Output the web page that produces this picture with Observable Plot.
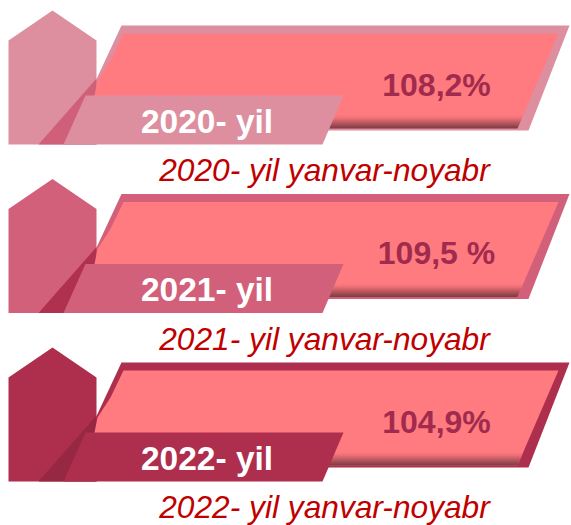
<!DOCTYPE html>
<html>
<head>
<meta charset="utf-8">
<script src="https://cdn.jsdelivr.net/npm/d3@7"></script>
<script src="https://cdn.jsdelivr.net/npm/@observablehq/plot@0.6"></script>
<style>
  html, body { margin: 0; padding: 0; background: #fff; }
  #chart svg { display: block; }
</style>
</head>
<body>
<div id="chart"></div>
<script>
// ---- data ----
const years = ["2020", "2021", "2022"];
const values = ["108,2%", "109,5 %", "104,9%"];
const yearLabels = ["2020- yil", "2021- yil", "2022- yil"];
const periodLabels = ["2020- yil yanvar-noyabr", "2021- yil yanvar-noyabr", "2022- yil yanvar-noyabr"];

// ---- palette ----
const themeColors = ["#DD8FA0", "#D3607A", "#AD2E4D"];
const shadowColors = ["#D06079", "#B0304F", "#972843"];
const innerColor = "#FF7B80";
const valueColor = "#A12B4D";
const periodColor = "#C00000";
const SHADE = "#010203"; // placeholder, replaced by gradient

const rows = years.map((year, i) => ({
  year, i, value: values[i], label: yearLabels[i], period: periodLabels[i],
  theme: themeColors[i], shadow: shadowColors[i]
}));

// row placement (band scale of the years)
const rowTop = d3.scaleBand().domain(years).range([0, 505.5]);

// decorative shape templates, local to each row
const templates = {
  house:  [[8,40],[52,10],[96,40],[96,144],[8,144]],
  frame:  [[121,25],[569,25],[528,130],[72,130]],
  shadow: [[38,144],[96,78],[96,144]],
  inner:  [[123,33],[558,33],[517,128],[78,128],[94,95],[97,80],[110,60]],
  strip:  [[86,113],[523.5,113],[517,128],[78,128]],
  band:   [[85,95],[343,95],[322,144],[63,144]]
};
function layer(name, colorOf) {
  const out = [];
  for (const r of rows) {
    for (const [px, py] of templates[name]) {
      out.push({id: name + r.year, x: px, y: rowTop(r.year) + py, fill: colorOf(r)});
    }
  }
  return out;
}
const polyOpts = {x: "x", y: "y", z: "id", fill: "fill", stroke: "none", curve: "linear-closed"};

const font = "'Liberation Sans', Arial, Helvetica, sans-serif";

const chart = Plot.plot({
  width: 571,
  height: 525,
  margin: 0,
  x: {domain: [0, 571], range: [0, 571], axis: null},
  y: {domain: [0, 525], range: [0, 525], axis: null},
  color: {type: "identity"},
  style: {background: "#fff"},
  marks: [
    Plot.line(layer("house", r => r.theme), polyOpts),
    Plot.line(layer("frame", r => r.theme), polyOpts),
    Plot.line(layer("shadow", r => r.shadow), polyOpts),
    Plot.line(layer("inner", () => innerColor), polyOpts),
    Plot.line(layer("strip", () => SHADE), polyOpts),
    Plot.line(layer("band", r => r.theme), polyOpts),
    Plot.text(rows, {
      x: () => 436, y: r => rowTop(r.year) + 95, text: "value",
      fill: valueColor, fontFamily: font, fontSize: 32, fontWeight: "bold",
      textAnchor: "middle", lineAnchor: "bottom"
    }),
    Plot.text(rows, {
      x: () => 206.5, y: r => rowTop(r.year) + 132, text: "label",
      fill: "#ffffff", fontFamily: font, fontSize: 33.5, fontWeight: "bold",
      textAnchor: "middle", lineAnchor: "bottom"
    }),
    Plot.text(rows, {
      x: () => 324, y: r => rowTop(r.year) + 180.5, text: "period",
      fill: periodColor, fontFamily: font, fontSize: 31.7, fontStyle: "italic",
      textAnchor: "middle", lineAnchor: "bottom"
    })
  ]
});

// gradient for the dark lower edge of the inner bar
const svg = d3.select(chart);
const grad = svg.insert("defs", ":first-child").append("linearGradient")
  .attr("id", "shade").attr("x1", 0).attr("y1", 0).attr("x2", 0).attr("y2", 1);
grad.append("stop").attr("offset", "0%").attr("stop-color", innerColor).attr("stop-opacity", 0);
grad.append("stop").attr("offset", "45%").attr("stop-color", "#D8646C").attr("stop-opacity", 1);
grad.append("stop").attr("offset", "100%").attr("stop-color", "#7A3B42").attr("stop-opacity", 1);
svg.selectAll(`[fill="${SHADE}"]`).attr("fill", "url(#shade)");

document.getElementById("chart").appendChild(chart);
</script>
</body>
</html>
